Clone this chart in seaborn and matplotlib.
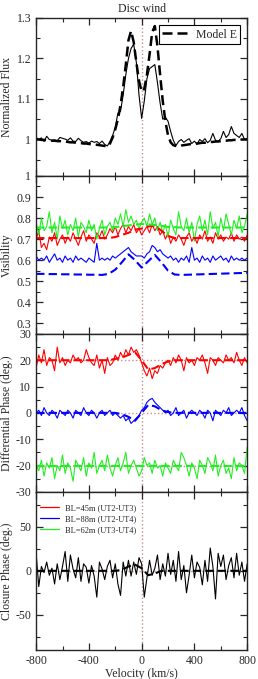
import numpy as np
import seaborn as sns
import matplotlib.pyplot as plt
from matplotlib.lines import Line2D
from matplotlib.ticker import MultipleLocator, FixedLocator, FuncFormatter

# observed series sampled every 20 km/s from -800 to 800, models every 20 or 50 km/s
flux_obs = [1.005, 1.000, 1.004, 0.995, 1.008, 1.000, 0.998, 0.999, 0.997, 1.005,
            1.003, 1.001, 0.998, 1.004, 0.996, 0.995, 1.003, 0.997, 0.993, 0.995,
            0.991, 0.996, 0.993, 0.995, 0.990, 0.996, 0.988, 0.984, 0.995, 1.010,
            1.030, 1.065, 1.070, 1.110, 1.160, 1.200, 1.225, 1.235, 1.190, 1.110,
            1.052, 1.095, 1.150, 1.175, 1.180, 1.185, 1.140, 1.090, 1.050, 1.055,
            1.045, 1.020, 0.998, 0.985, 0.995, 1.000, 0.993, 0.998, 1.002, 0.990,
            0.996, 0.988, 1.000, 0.995, 1.002, 0.992, 0.998, 1.015, 0.998, 0.996,
            1.002, 1.020, 1.005, 1.012, 1.032, 1.015, 1.010, 1.005, 1.015, 1.000,
            1.003]
flux_model = [1.000, 1.000, 0.999, 0.999, 0.998, 0.998, 0.997, 0.997, 0.996, 0.996,
              0.995, 0.995, 0.994, 0.993, 0.993, 0.992, 0.991, 0.991, 0.990, 0.990,
              0.989, 0.988, 0.988, 0.987, 0.986, 0.985, 0.984, 0.982, 0.990, 1.005,
              1.025, 1.050, 1.085, 1.130, 1.185, 1.245, 1.268, 1.240, 1.190, 1.145,
              1.118, 1.125, 1.160, 1.210, 1.265, 1.280, 1.230, 1.160, 1.095, 1.045,
              1.010, 0.993, 0.986, 0.984, 0.983, 0.985, 0.986, 0.987, 0.988, 0.989,
              0.990, 0.990, 0.991, 0.992, 0.992, 0.993, 0.994, 0.994, 0.995, 0.995,
              0.996, 0.997, 0.997, 0.998, 0.998, 0.999, 0.999, 1.000, 1.000, 1.000,
              1.000]

vis_red = [0.70, 0.74, 0.66, 0.68, 0.65, 0.71, 0.69, 0.73, 0.67, 0.70,
           0.72, 0.68, 0.71, 0.69, 0.73, 0.70, 0.67, 0.71, 0.74, 0.69,
           0.72, 0.70, 0.68, 0.73, 0.71, 0.74, 0.70, 0.72, 0.75, 0.73,
           0.76, 0.72, 0.75, 0.77, 0.73, 0.76, 0.74, 0.77, 0.73, 0.75,
           0.72, 0.74, 0.76, 0.73, 0.77, 0.74, 0.76, 0.72, 0.74, 0.70,
           0.73, 0.68, 0.71, 0.69, 0.72, 0.70, 0.67, 0.71, 0.73, 0.69,
           0.71, 0.68, 0.72, 0.70, 0.74, 0.69, 0.71, 0.68, 0.73, 0.70,
           0.72, 0.69, 0.71, 0.70, 0.73, 0.69, 0.72, 0.70, 0.71, 0.69,
           0.72]
vis_blue = [0.62, 0.60, 0.61, 0.60, 0.62, 0.59, 0.61, 0.63, 0.60, 0.61,
            0.59, 0.62, 0.60, 0.61, 0.59, 0.62, 0.60, 0.61, 0.60, 0.59,
            0.61, 0.60, 0.59, 0.68, 0.60, 0.61, 0.60, 0.61, 0.60, 0.62,
            0.61, 0.62, 0.63, 0.64, 0.65, 0.66, 0.64, 0.63, 0.62, 0.62,
            0.62, 0.61, 0.63, 0.64, 0.67, 0.66, 0.64, 0.65, 0.63, 0.62,
            0.61, 0.62, 0.60, 0.61, 0.59, 0.61, 0.60, 0.62, 0.59, 0.66,
            0.60, 0.61, 0.59, 0.62, 0.60, 0.61, 0.59, 0.62, 0.60, 0.61,
            0.62, 0.60, 0.61, 0.59, 0.62, 0.60, 0.61, 0.60, 0.61, 0.60,
            0.61]
vis_green = [0.78, 0.72, 0.80, 0.74, 0.76, 0.83, 0.73, 0.78, 0.70, 0.81,
             0.75, 0.79, 0.72, 0.77, 0.74, 0.80, 0.71, 0.78, 0.76, 0.73,
             0.79, 0.74, 0.77, 0.70, 0.75, 0.79, 0.72, 0.76, 0.78, 0.74,
             0.80, 0.77, 0.82, 0.76, 0.84, 0.78, 0.81, 0.77, 0.79, 0.75,
             0.78, 0.80, 0.76, 0.82, 0.77, 0.80, 0.74, 0.78, 0.73, 0.77,
             0.71, 0.79, 0.75, 0.72, 0.83, 0.76, 0.74, 0.80, 0.73, 0.78,
             0.69, 0.77, 0.81, 0.74, 0.79, 0.72, 0.83, 0.75, 0.78, 0.71,
             0.80, 0.74, 0.82, 0.77, 0.72, 0.79, 0.75, 0.81, 0.73, 0.76,
             0.82]
vis_red_model = [0.705, 0.705, 0.705, 0.705, 0.705, 0.705, 0.705, 0.705, 0.705, 0.705, 0.705, 0.705,
                 0.710, 0.720, 0.730, 0.745, 0.750, 0.760, 0.765, 0.740, 0.715, 0.705,
                 0.705, 0.705, 0.705, 0.705, 0.705, 0.705, 0.705, 0.705, 0.705, 0.705, 0.705]
vis_blue_model = [0.535, 0.535, 0.534, 0.534, 0.533, 0.533, 0.532, 0.532, 0.531, 0.531, 0.530,
                  0.535, 0.555, 0.590, 0.628, 0.600, 0.565, 0.595, 0.625, 0.590, 0.550, 0.532,
                  0.530, 0.531, 0.532, 0.533, 0.534, 0.535, 0.536, 0.537, 0.538, 0.539, 0.540]
vis_green_model = [0.755, 0.755, 0.755, 0.755, 0.755, 0.755, 0.757, 0.765, 0.772,
                   0.768, 0.758, 0.755, 0.755, 0.755, 0.755, 0.755, 0.755]

dp_red = [17, 22, 19, 24, 18, 21, 20, 16, 25, 19,
          21, 18, 20, 19, 22, 20, 21, 19, 20, 24,
          21, 19, 18, 22, 17, 20, 15, 21, 18, 19,
          22, 20, 23, 21, 24, 22, 25, 23, 24, 22,
          19, 16, 14, 17, 13, 16, 15, 18, 17, 19,
          20, 18, 21, 19, 22, 20, 16, 21, 19, 20,
          18, 21, 20, 22, 19, 15, 21, 20, 18, 21,
          20, 19, 22, 20, 21, 19, 23, 20, 18, 21,
          19]
dp_blue = [0, 1, -1, 2, 0, -1, 1, 0, -2, 1,
           0, -1, 1, 0, -2, 1, 0, -1, 2, 0,
           -1, 1, 0, -2, 0, 1, -1, 0, 1, -1,
           0, -1, -2, -1, -3, -2, -4, -3, -2, -1,
           1, 2, 4, 5, 5.5, 4, 3, 2, 1, 0,
           1, -1, 0, 2, -1, 0, 1, -2, 0, 1,
           0, -1, 1, 0, -2, 1, 0, -3, 1, 0,
           -1, 1, 0, 2, -1, 0, 1, 0, 2, -1,
           -3]
dp_green = [-20, -22, -18, -24, -19, -21, -17, -25, -20, -22,
            -16, -23, -19, -21, -26, -18, -20, -22, -17, -24,
            -19, -21, -15, -23, -20, -18, -22, -16, -21, -24,
            -20, -17, -22, -19, -15, -23, -20, -18, -21, -24,
            -22, -17, -20, -19, -23, -18, -21, -20, -24, -19,
            -21, -23, -18, -20, -22, -15, -17, -20, -24, -19,
            -21, -25, -18, -20, -23, -17, -19, -22, -16, -24,
            -20, -18, -23, -21, -25, -17, -22, -19, -20, -23,
            -13]
dp_red_model = [20, 20, 20, 20, 20, 20, 20, 20, 20, 20, 20,
                20, 20.5, 21, 22, 23, 20, 16.5, 17, 18.5, 19.5, 20,
                20, 20, 20, 20, 20, 20, 20, 20, 20, 20, 20]
dp_blue_model = [0, 0, 0, 0, 0, 0, 0, 0, 0, 0, 0,
                 0, 0, -0.5, -1.5, -3, 0, 3, 2.5, 1, 0.3, 0,
                 0, 0, 0, 0, 0, 0, 0, 0, 0, 0, 0]
dp_green_model = [-20, -20, -20, -20, -20, -20, -20, -20, -20,
                  -20, -20, -20, -20, -20, -20, -20, -20]

cp_obs = [20, -18, 5, -2, 10, -5, 3, -15, 8, -10,
          5, 22, -12, 18, 2, -8, 15, -12, 8, 4,
          -14, 6, -6, -30, 10, 2, -10, 5, 12, -8,
          8, -15, -28, 10, -6, 12, -6, 10, -4, 15,
          8, -30, -8, 12, -5, 3, 18, -10, 8, -6,
          20, -4, 12, -12, 22, -10, 6, -25, -5, 18,
          -8, 10, 4, -16, 12, -12, 26, 5, -32, 20,
          5, 18, -10, 6, 15, -8, 20, -5, 10, -12,
          8]
cp_model = [0, 0, 0, 0, 0, 0, 0, 0, 0, 0, 0,
            0, 0, 1, 5, 7, 3, -5, -3, 0, 0, 0,
            0, 0, 0, 0, 0, 0, 0, 0, 0, 0, 0]

baselines = ['BL=45m (UT2-UT3)', 'BL=88m (UT2-UT4)', 'BL=62m (UT3-UT4)']
colors = ['#ff0000', '#0000ff', '#22ee22']
DOT = '#c89090'

flux_ticks = [1.0, 1.1, 1.2, 1.3]
vis_ticks = [0.3, 0.4, 0.5, 0.6, 0.7, 0.8, 0.9, 1.0]
dp_ticks = [-30, -20, -10, 0, 10, 20, 30]
cp_ticks = [-50, 0, 50]
vel_ticks = [-800, -400, 0, 400, 800]


def vel(vals):
    return np.linspace(-800, 800, len(vals))


def obs(ax, vals, color, lw=0.8):
    sns.lineplot(x=vel(vals), y=vals, ax=ax, color=color, lw=lw)


def model(ax, vals, color, lw=1.6):
    sns.lineplot(x=vel(vals), y=vals, ax=ax, color=color, lw=lw, ls=(0, (4, 2)))


def style_axis(ax, ylim, ticks, minor):
    ax.set_ylim(*ylim)
    ax.yaxis.set_major_locator(FixedLocator(ticks))
    ax.yaxis.set_minor_locator(MultipleLocator(minor))
    ax.yaxis.set_major_formatter(FuncFormatter(lambda y, _: f'{y:g}'))
    ax.tick_params(which='both', direction='in', top=True, right=True, labelsize=8.5)
    ax.tick_params(which='major', length=5, width=0.9)
    ax.tick_params(which='minor', length=3, width=0.8)
    ax.axvline(0, color=DOT, ls=':', lw=1, zorder=0)
    for s in ax.spines.values():
        s.set_linewidth(1.0)
    ax.yaxis.set_label_coords(-0.11, 0.5)


sns.set_style('ticks')
plt.rcParams['font.family'] = ['Liberation Serif', 'DejaVu Serif']

fig, axes = plt.subplots(4, 1, figsize=(2.58, 6.79), dpi=100, sharex=True)
fig.subplots_adjust(left=0.14, right=0.958, top=0.9735, bottom=0.043, hspace=0)

# flux
ax = axes[0]
obs(ax, flux_obs, 'black', 0.8)
model(ax, flux_model, 'black', 1.8)
style_axis(ax, (0.91, 1.3), flux_ticks, 0.05)
ax.set_ylabel('Normalized Flux', fontsize=8.5)
ax.set_title('Disc wind', fontsize=8.5, pad=4)
leg = ax.legend([Line2D([], [], color='black', lw=1.8, ls=(0, (4, 2)))], ['Model E'],
                loc='upper right', fontsize=8.5, fancybox=False, framealpha=1,
                edgecolor='black', handlelength=2.2, borderpad=0.3,
                borderaxespad=0.6, handletextpad=0.6)
leg.get_frame().set_linewidth(0.8)

# visibility
ax = axes[1]
for vals, c in zip([vis_red, vis_blue, vis_green], colors):
    obs(ax, vals, c)
for vals, c in zip([vis_red_model, vis_blue_model, vis_green_model], colors):
    model(ax, vals, c, 1.5)
style_axis(ax, (0.25, 1.0), vis_ticks, 0.05)
ax.set_ylabel('Visibility', fontsize=8.5)

# differential phase
ax = axes[2]
for lvl in [20, 0, -20]:
    ax.axhline(lvl, color=DOT, ls=':', lw=1, zorder=0)
for vals, c in zip([dp_red, dp_blue, dp_green], colors):
    obs(ax, vals, c)
for vals, c in zip([dp_red_model, dp_blue_model, dp_green_model], colors):
    model(ax, vals, c, 1.5)
style_axis(ax, (-30, 30), dp_ticks, 5)
ax.set_ylabel('Differential Phase (deg.)', fontsize=8.5)

# closure phase
ax = axes[3]
ax.axhline(0, color=DOT, ls=':', lw=1, zorder=0)
obs(ax, cp_obs, 'black', 0.8)
model(ax, cp_model, 'black', 1.5)
style_axis(ax, (-90, 90), cp_ticks, 25)
ax.set_ylabel('Closure Phase (deg.)', fontsize=8.5)
handles = [Line2D([], [], color=c, lw=0.9) for c in colors]
ax.legend(handles, baselines, loc='upper left', bbox_to_anchor=(0.0, 0.95),
          fontsize=6, frameon=False, handlelength=2.2, handletextpad=0.8,
          labelspacing=0.35, borderaxespad=0.1)

ax.set_xlim(-800, 800)
ax.xaxis.set_major_locator(FixedLocator(vel_ticks))
ax.xaxis.set_minor_locator(MultipleLocator(200))
ax.xaxis.set_major_formatter(FuncFormatter(lambda x, _: f'{x:g}'))
ax.set_xlabel('Velocity (km/s)', fontsize=8.5, labelpad=1)

plt.savefig('out.png', dpi=100)
